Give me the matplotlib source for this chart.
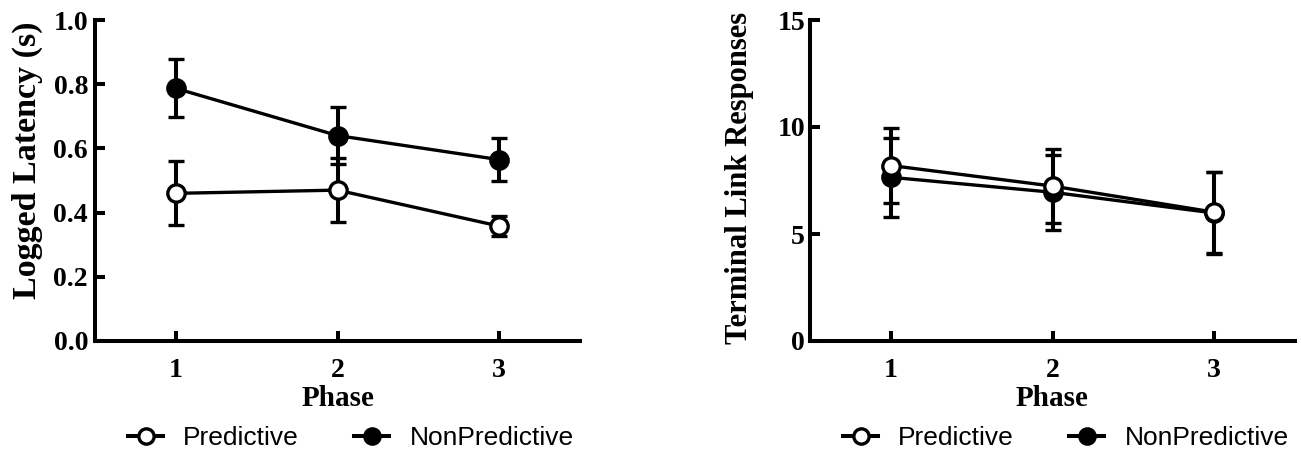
import matplotlib
matplotlib.use("Agg")
import matplotlib.pyplot as plt
from matplotlib.lines import Line2D

phases = [1, 2, 3]

lat_pred = [0.46, 0.47, 0.358]
lat_pred_err = [0.10, 0.10, 0.03]
lat_nonpred = [0.787, 0.64, 0.565]
lat_nonpred_err = [0.09, 0.09, 0.068]

tl_pred = [8.2, 7.24, 6.02]
tl_pred_err = [1.76, 1.72, 1.9]
tl_nonpred = [7.65, 6.95, 5.98]
tl_nonpred_err = [1.85, 1.75, 1.9]

serif = ["Liberation Serif", "DejaVu Serif"]
sans = ["Liberation Sans", "DejaVu Sans"]

W, H = 1301, 453
fig = plt.figure(figsize=(W / 100, H / 100), dpi=100)
ax1 = fig.add_axes([95 / W, 1 - 341 / H, 485 / W, 321 / H])
ax2 = fig.add_axes([810 / W, 1 - 341 / H, 485 / W, 321 / H])

LW = 2.4
SPW = 2.9
MS = 12.5
MEW = 2.4

def draw(ax, pred, pred_err, nonpred, nonpred_err, ylim, yticks, yticklabels,
         ylabel, ylabel_xy, ylabel_size, ypad, legend_x):
    ax.errorbar(phases, nonpred, yerr=nonpred_err, color="black", lw=LW,
                marker="o", ms=MS, mfc="black", mec="black", mew=MEW,
                capsize=6, capthick=SPW, elinewidth=SPW, zorder=3)
    ax.errorbar(phases, pred, yerr=pred_err, color="black", lw=LW,
                marker="o", ms=MS, mfc="white", mec="black", mew=MEW,
                capsize=6, capthick=SPW, elinewidth=SPW, zorder=4)
    ax.set_xlim(0.5, 3.5)
    ax.set_ylim(*ylim)
    ax.set_xticks(phases)
    ax.set_xticklabels([str(p) for p in phases], family=serif, fontweight="bold", fontsize=20)
    ax.set_yticks(yticks)
    ax.set_yticklabels(yticklabels, family=serif, fontweight="bold", fontsize=20)
    ax.set_xlabel("Phase", family=serif, fontweight="bold", fontsize=21, labelpad=2)
    fig.text(ylabel_xy[0] / W, 1 - ylabel_xy[1] / H, ylabel, rotation=90,
             ha="center", va="center", family=serif, fontweight="bold",
             fontsize=ylabel_size)
    for s in ["top", "right"]:
        ax.spines[s].set_visible(False)
    for s in ["left", "bottom"]:
        ax.spines[s].set_linewidth(SPW)
    ax.tick_params(direction="in", length=7.5, width=SPW)
    ax.tick_params(axis="y", pad=ypad)
    ax.tick_params(axis="x", pad=12)
    for c in ax.get_children():
        c.set_clip_on(False)
    handles = [
        Line2D([], [], color="black", lw=SPW, marker="o", ms=11, mfc="white", mec="black", mew=MEW),
        Line2D([], [], color="black", lw=SPW, marker="o", ms=11, mfc="black", mec="black", mew=MEW),
    ]
    fig.legend(handles, ["Predictive", "NonPredictive"], loc="center left",
               bbox_to_anchor=(legend_x / W, 1 - 438 / H), ncol=2, frameon=False,
               prop={"family": sans, "size": 19}, handlelength=1.33,
               columnspacing=2.1, handletextpad=0.76, borderpad=0,
               borderaxespad=0)

draw(ax1, lat_pred, lat_pred_err, lat_nonpred, lat_nonpred_err, (0, 1.0),
     [0, 0.2, 0.4, 0.6, 0.8, 1.0], ["0.0", "0.2", "0.4", "0.6", "0.8", "1.0"],
     "Logged Latency (s)", (27.5, 160), 24.5, 5, 128)
draw(ax2, tl_pred, tl_pred_err, tl_nonpred, tl_nonpred_err, (0, 15),
     [0, 5, 10, 15], ["0", "5", "10", "15"], "Terminal Link Responses",
     (740, 178), 22, 3.5, 843)

fig.savefig("out.png", dpi=100)
